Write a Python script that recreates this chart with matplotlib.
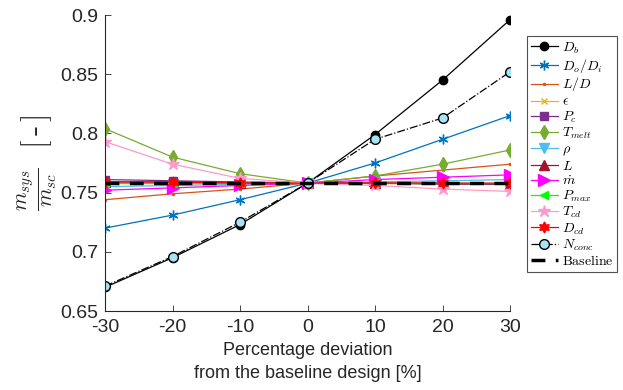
import matplotlib.pyplot as plt
import numpy as np

plt.rcParams['mathtext.fontset'] = 'cm'
plt.rcParams['font.family'] = ['Liberation Sans', 'DejaVu Sans']

dev = [-30, -20, -10, 0, 10, 20, 30]

D_b = [0.670, 0.695, 0.723, 0.758, 0.799, 0.845, 0.896]
Do_Di = [0.720, 0.731, 0.744, 0.758, 0.775, 0.795, 0.815]
L_D = [0.744, 0.749, 0.753, 0.758, 0.764, 0.769, 0.774]
eps = [0.758, 0.758, 0.758, 0.758, 0.758, 0.758, 0.758]
P_c = [0.761, 0.760, 0.759, 0.758, 0.758, 0.757, 0.757]
T_melt = [0.804, 0.780, 0.766, 0.758, 0.764, 0.774, 0.786]
rho = [0.755, 0.756, 0.757, 0.758, 0.759, 0.760, 0.761]
L = [0.759, 0.759, 0.758, 0.758, 0.758, 0.758, 0.757]
mdot = [0.752, 0.754, 0.756, 0.758, 0.761, 0.763, 0.765]
P_max = [0.758, 0.758, 0.758, 0.758, 0.758, 0.758, 0.758]
T_cd = [0.793, 0.774, 0.762, 0.758, 0.756, 0.753, 0.751]
D_cd = [0.759, 0.759, 0.758, 0.758, 0.758, 0.758, 0.758]
N_conc = [0.671, 0.696, 0.725, 0.758, 0.795, 0.813, 0.852]
baseline = [0.758] * 7

fig = plt.figure(figsize=(6.23, 3.9), dpi=100)
ax = fig.add_axes([105/623, 1-311/390, 405/623, 296/390])

kw = dict(linestyle='-', lw=0.9)
ax.plot(dev, D_b, marker='o', color='k', mfc='k', ms=6, label=r'$D_b$', **kw)
ax.plot(dev, Do_Di, marker=(6, 2, 0), color='#0072BD', ms=7, mew=1.0, label=r'$D_o/D_i$', **kw)
ax.plot(dev, L_D, marker='.', color='#D95319', ms=3, label=r'$L/D$', **kw)
ax.plot(dev, eps, marker='x', color='#EDB120', ms=5, label=r'$\epsilon$', **kw)
ax.plot(dev, P_c, marker='s', color='#7E2F8E', mfc='#7E2F8E', ms=6, label=r'$P_c$', **kw)
ax.plot(dev, T_melt, marker='d', color='#77AC30', mfc='#77AC30', ms=7, label=r'$T_{melt}$', **kw)
ax.plot(dev, rho, marker='v', color='#4DBEEE', mfc='#4DBEEE', ms=7, label=r'$\rho$', **kw)
ax.plot(dev, L, marker='^', color='#A2142F', mfc='#A2142F', ms=7, label=r'$L$', **kw)
ax.plot(dev, mdot, marker='>', color='#FF00FF', mfc='#FF00FF', ms=8, label=r'$\dot{m}$', **kw)
ax.plot(dev, P_max, marker='<', color='#00FF00', mfc='#00FF00', ms=6, label=r'$P_{max}$', **kw)
ax.plot(dev, T_cd, marker='*', color='#FF99CC', mfc='#FF99CC', ms=9, label=r'$T_{cd}$', **kw)
ax.plot(dev, D_cd, marker=(6, 1, 0), color='#FF0000', mfc='#FF0000', ms=8, label=r'$D_{cd}$', **kw)
ax.plot(dev, N_conc, linestyle='-.', lw=0.9, marker='o', color='k', mfc='#A6E3F5', mec='k', ms=7,
        label=r'$N_{conc}$')
ax.plot(dev, baseline, '--', color='k', lw=2.5, dashes=(4, 3), label=r'$\mathrm{Baseline}$')

ax.set_xlim(-30, 30)
ax.set_ylim(0.65, 0.9)
ax.set_xticks(dev)
ax.set_xticklabels(['-30', '-20', '-10', '0', '10', '20', '30'])
ax.set_yticks([0.65, 0.7, 0.75, 0.8, 0.85, 0.9])
ax.set_yticklabels(['0.65', '0.7', '0.75', '0.8', '0.85', '0.9'])
ax.tick_params(direction='in', labelsize=14, colors='#262626', length=4, width=0.6)
ax.tick_params(axis='x', pad=6)
ax.tick_params(axis='y', pad=5)
for s in ['top', 'right']:
    ax.spines[s].set_visible(False)
for s in ['left', 'bottom']:
    ax.spines[s].set_color('#262626')
    ax.spines[s].set_linewidth(0.8)

ax.set_xlabel('Percentage deviation\nfrom the baseline design [%]', fontsize=13, color='#262626',
              linespacing=1.5)
ax.set_ylabel(r'$\frac{m_{sys}}{m_{sc}}$  $[\,\mathbf{\text{-}}\,]$', fontsize=22, color='#262626',
              labelpad=1)

leg = fig.legend(loc='upper left', bbox_to_anchor=(527/623, 1-36/390), fontsize=10,
                 frameon=True, fancybox=False, edgecolor='#262626', labelspacing=0.07,
                 handlelength=1.9, handletextpad=0.3, borderpad=0.3, borderaxespad=0)
leg.get_frame().set_linewidth(0.8)

fig.savefig('out.png', dpi=100)
